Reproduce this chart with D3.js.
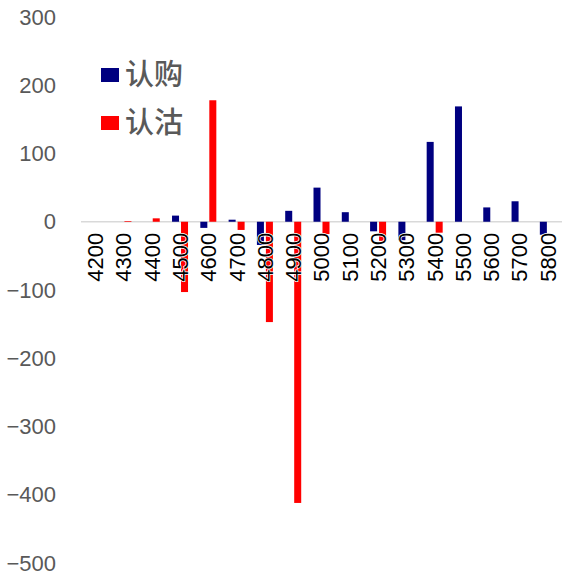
<!DOCTYPE html>
<html>
<head>
<meta charset="utf-8">
<script src="https://cdn.jsdelivr.net/npm/d3@7"></script>
<style>
  html, body { margin: 0; padding: 0; background: #fff; }
  svg { display: block; }
</style>
</head>
<body>
<svg id="chart" width="578" height="578"></svg>
<script>
// Option strikes and net changes for calls (认购) and puts (认沽)
const strikes = ["4200","4300","4400","4500","4600","4700","4800","4900","5000",
                 "5100","5200","5300","5400","5500","5600","5700","5800"];
const callValues = [0, 0, 0, 9, -9, 3, -34, 16, 50, 14, -14, -27, 117, 169, 21, 30, -19];
const putValues  = [0, 1, 5, -103, 178, -12, -147, -412, -18, 0, -28, 0, -16, 0, 0, 0, 0];
const seriesNames = ["认购", "认沽"];
const seriesColors = ["#000080", "#ff0000"];
const yTicks = [300, 200, 100, 0, -100, -200, -300, -400, -500];

const svg = d3.select("#chart");
const plot = { left: 81, right: 562, top: 17, bottom: 563 };

const x = d3.scaleBand().domain(strikes).range([plot.left, plot.right]).padding(0);
const y = d3.scaleLinear().domain([-500, 300]).range([plot.bottom, plot.top]);
const inner = d3.scaleBand().domain([0, 1]).range([-8, 8]).paddingInner(0.22);

// y-axis labels (no axis line)
const yAxis = d3.axisLeft(y).tickValues(yTicks).tickSize(0).tickPadding(0);
const gy = svg.append("g").attr("transform", `translate(56,0)`).call(yAxis);
gy.select(".domain").remove();
gy.selectAll("text")
  .attr("fill", "#595959")
  .style("font-family", "'Liberation Sans', Arial, sans-serif")
  .style("font-size", "22px");

// zero baseline
svg.append("line")
  .attr("x1", plot.left).attr("x2", plot.right)
  .attr("y1", y(0)).attr("y2", y(0))
  .attr("stroke", "#d9d9d9").attr("stroke-width", 1.5);

// bars
const series = [callValues, putValues];
series.forEach((vals, si) => {
  svg.append("g").selectAll("rect")
    .data(vals.map((v, i) => ({ k: strikes[i], v })))
    .join("rect")
    .attr("x", d => x(d.k) + x.bandwidth() / 2 + inner(si))
    .attr("width", inner.bandwidth())
    .attr("y", d => Math.min(y(d.v), y(0)))
    .attr("height", d => Math.abs(y(d.v) - y(0)))
    .attr("fill", seriesColors[si]);
});

// x-axis labels, rotated, hanging below the baseline
const xAxis = d3.axisBottom(x).tickSize(0).tickPadding(0);
const gx = svg.append("g").attr("transform", `translate(0,${y(0)})`).call(xAxis);
gx.select(".domain").remove();
gx.selectAll("text")
  .attr("transform", "rotate(-90)")
  .attr("x", -11)
  .attr("y", 0)
  .attr("dy", "0.36em")
  .attr("text-anchor", "end")
  .attr("fill", "#000")
  .attr("stroke", "#fff")
  .attr("stroke-width", 1.5)
  .attr("paint-order", "stroke")
  .style("font-family", "'Liberation Sans', Arial, sans-serif")
  .style("font-size", "22px");

// legend
const legend = svg.append("g");
seriesNames.forEach((name, i) => {
  const cy = 75 + i * 48;
  legend.append("rect")
    .attr("x", 101).attr("y", cy - 7)
    .attr("width", 18).attr("height", 14)
    .attr("fill", seriesColors[i]);
  legend.append("text")
    .attr("x", 125).attr("y", cy)
    .attr("dy", "0.36em")
    .attr("fill", "#595959")
    .style("font-family", "'Noto Sans CJK SC', sans-serif")
    .style("font-size", "29px")
    .style("font-weight", "500")
    .text(name);
});
</script>
</body>
</html>
